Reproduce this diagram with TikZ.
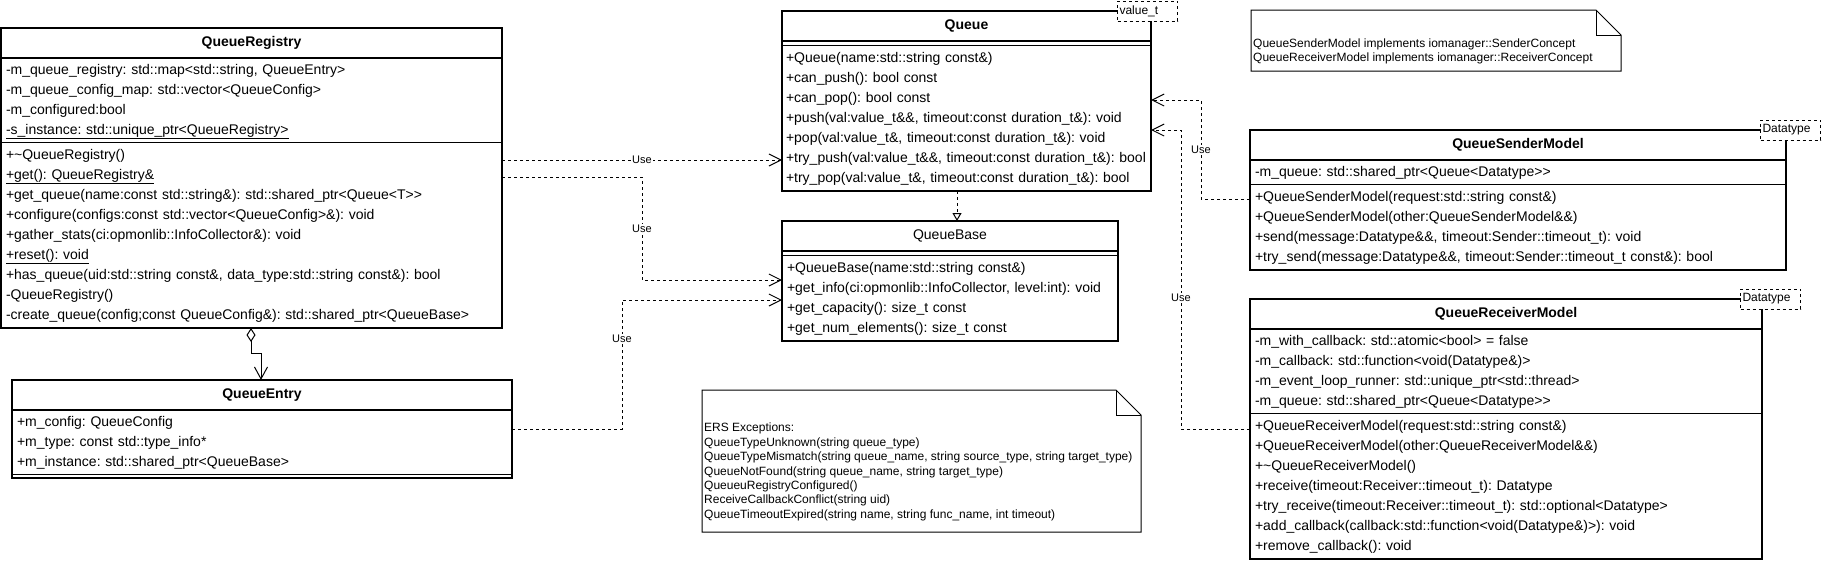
\documentclass[tikz,border=0pt]{standalone}
\usepackage{fontspec}
\setmainfont{Liberation Sans}
\usetikzlibrary{arrows.meta,positioning,fit,calc}
\frenchspacing
\newcommand{\umlfont}{\fontsize{14}{20}\selectfont}
\newcommand{\notefont}{\fontsize{12}{14.4}\selectfont}
\newcommand{\lblfont}{\fontsize{11}{13}\selectfont}
\tikzset{
  classhead/.style={draw, line width=2pt, minimum width=#1, minimum height=30pt,
    inner sep=0pt, outer sep=0pt, font=\umlfont\bfseries},
  classpart/.style={draw, line width=1pt, text width=#1, inner xsep=5pt,
    inner ysep=0pt, outer sep=0pt, align=left, font=\umlfont,
    execute at begin node=\strut, execute at end node=\strut},
  classgap/.style={draw, line width=1pt, minimum width=#1, minimum height=4pt,
    inner sep=0pt, outer sep=0pt},
  classframe/.style={draw, line width=2pt, inner sep=0pt, outer sep=0pt},
  tplbox/.style={draw, line width=1pt, dash pattern=on 3pt off 3pt, fill=white,
    text width=56pt, inner xsep=2pt, inner ysep=0pt, minimum height=20pt,
    align=left, font=\fontsize{12}{14}\selectfont},
  notebox/.style={inner sep=0pt, outer sep=0pt},
  noteline/.style={line width=1pt},
  notetext/.style={align=left, inner sep=1pt, font=\notefont},
  usedep/.style={line width=1pt, dash pattern=on 3pt off 3pt,
    -{Straight Barb[length=12pt, width=12pt]}},
  aggr/.style={line width=1pt,
    {Diamond[open, length=14pt, width=9pt]}-{Straight Barb[length=12pt, width=13pt]}},
  realize/.style={line width=1pt, dash pattern=on 3pt off 3pt,
    -{Triangle[open, length=8pt, width=9pt]}},
  uselbl/.style={fill=white, inner sep=1pt, font=\lblfont}
}

\begin{document}
\begin{tikzpicture}[x=1pt, y=-1pt]
\useasboundingbox (0,0) rectangle (1822,560);

\node[classhead=501pt, anchor=north west] (reg) at (1,28) {QueueRegistry};
\node[classpart=491pt, minimum height=84pt, below=0pt of reg] (reg-a) {-m\_queue\_registry: std::map<std::string, QueueEntry>\\-m\_queue\_config\_map: std::vector<QueueConfig>\\-m\_configured:bool\\\underline{-s\_instance: std::unique\_ptr<QueueRegistry>}};
\node[classpart=491pt, minimum height=186pt, below=0pt of reg-a] (reg-m) {+\textasciitilde QueueRegistry()\\\underline{+get(): QueueRegistry\&}\\+get\_queue(name:const std::string\&): std::shared\_ptr<Queue<T>{}>\\+configure(configs:const std::vector<QueueConfig>\&): void\\+gather\_stats(ci:opmonlib::InfoCollector\&): void\\\underline{+reset(): void}\\+has\_queue(uid:std::string const\&, data\_type:std::string const\&): bool\\-QueueRegistry()\\-create\_queue(config;const QueueConfig\&): std::shared\_ptr<QueueBase>};
\node[classframe, fit=(reg)(reg-m)] (reg-box) {};

\node[classhead=500pt, anchor=north west] (qe) at (12,380) {QueueEntry};
\node[classpart=490pt, minimum height=64pt, below=0pt of qe] (qe-a) {+m\_config: QueueConfig\\+m\_type: const std::type\_info*\\+m\_instance: std::shared\_ptr<QueueBase>};
\node[classgap=500pt, below=0pt of qe-a] (qe-m) {};
\node[classframe, fit=(qe)(qe-m)] (qe-box) {};

\node[classhead=369pt, anchor=north west] (q) at (782,11) {Queue};
\node[classgap=369pt, below=0pt of q] (q-a) {};
\node[classpart=361pt, inner xsep=4pt, minimum height=146pt, below=0pt of q-a] (q-m) {+Queue(name:std::string const\&)\\+can\_push(): bool const\\+can\_pop(): bool const\\\mbox{+push(val:value\_t\&\&, timeout:const duration\_t\&): void}\\\mbox{+pop(val:value\_t\&, timeout:const duration\_t\&): void}\\\mbox{+try\_push(val:value\_t\&\&, timeout:const duration\_t\&): bool}\\\mbox{+try\_pop(val:value\_t\&, timeout:const duration\_t\&): bool}};
\node[classframe, fit=(q)(q-m)] (q-box) {};
\node[tplbox, anchor=west] (q-tpl) at ($(q.north east)+(-34,0)$) {value\_t};

\node[classhead=336pt, font=\umlfont, anchor=north west] (qb) at (782,221) {QueueBase};
\node[classgap=336pt, below=0pt of qb] (qb-a) {};
\node[classpart=326pt, minimum height=86pt, below=0pt of qb-a] (qb-m) {+QueueBase(name:std::string const\&)\\+get\_info(ci:opmonlib::InfoCollector, level:int): void\\+get\_capacity(): size\_t const\\+get\_num\_elements(): size\_t const};
\node[classframe, fit=(qb)(qb-m)] (qb-box) {};

\node[classhead=536pt, anchor=north west] (qs) at (1250,130) {QueueSenderModel};
\node[classpart=526pt, minimum height=24pt, below=0pt of qs] (qs-a) {-m\_queue: std::shared\_ptr<Queue<Datatype>{}>};
\node[classpart=526pt, minimum height=86pt, below=0pt of qs-a] (qs-m) {+QueueSenderModel(request:std::string const\&)\\+QueueSenderModel(other:QueueSenderModel\&\&)\\+send(message:Datatype\&\&, timeout:Sender::timeout\_t): void\\+try\_send(message:Datatype\&\&, timeout:Sender::timeout\_t const\&): bool};
\node[classframe, fit=(qs)(qs-m)] (qs-box) {};
\node[tplbox, anchor=west] (qs-tpl) at ($(qs.north east)+(-26,0)$) {Datatype};

\node[classhead=512pt, anchor=north west] (qr) at (1250,299) {QueueReceiverModel};
\node[classpart=502pt, minimum height=84pt, below=0pt of qr] (qr-a) {-m\_with\_callback: std::atomic<bool> = false\\-m\_callback: std::function<void(Datatype\&)>\\-m\_event\_loop\_runner: std::unique\_ptr<std::thread>\\-m\_queue: std::shared\_ptr<Queue<Datatype>{}>};
\node[classpart=502pt, minimum height=146pt, below=0pt of qr-a] (qr-m) {+QueueReceiverModel(request:std::string const\&)\\+QueueReceiverModel(other:QueueReceiverModel\&\&)\\+\textasciitilde QueueReceiverModel()\\+receive(timeout:Receiver::timeout\_t): Datatype\\+try\_receive(timeout:Receiver::timeout\_t): std::optional<Datatype>\\+add\_callback(callback:std::function<void(Datatype\&)>): void\\+remove\_callback(): void};
\node[classframe, fit=(qr)(qr-m)] (qr-box) {};
\node[tplbox, anchor=west] (qr-tpl) at ($(qr.north east)+(-22,0)$) {Datatype};

\node[notebox, minimum width=370pt, minimum height=61pt, anchor=north west] (impl) at (1251,10) {};
\draw[noteline] (impl.south west) -- (impl.north west) -- ($(impl.north east)+(-25,0)$) -- ($(impl.north east)+(0,25)$) -- (impl.south east) -- cycle;
\draw[noteline] ($(impl.north east)+(-25,0)$) -- ++(0,25) -- ++(25,0);
\node[notetext, anchor=west] (impl-txt) at ($(impl.west)+(1,11)$) {QueueSenderModel implements iomanager::SenderConcept\\QueueReceiverModel implements iomanager::ReceiverConcept};

\node[notebox, minimum width=439pt, minimum height=142pt, anchor=north west] (ers) at (702,390) {};
\draw[noteline] (ers.south west) -- (ers.north west) -- ($(ers.north east)+(-25,0)$) -- ($(ers.north east)+(0,25)$) -- (ers.south east) -- cycle;
\draw[noteline] ($(ers.north east)+(-25,0)$) -- ++(0,25) -- ++(25,0);
\node[notetext, anchor=west] (ers-txt) at ($(ers.west)+(1,11)$) {ERS Exceptions:\\QueueTypeUnknown(string queue\_type)\\QueueTypeMismatch(string queue\_name, string source\_type, string target\_type)\\QueueNotFound(string queue\_name, string target\_type)\\QueueuRegistryConfigured()\\ReceiveCallbackConflict(string uid)\\QueueTimeoutExpired(string name, string func\_name, int timeout)};

\coordinate (u1) at ($(reg-m.north east)+(0,18)$);
\coordinate (u2) at ($(reg-m.north east)+(0,35)$);
\coordinate (v2) at ($(qb-m.north west)+(0,25)$);
\coordinate (u3) at ($(qe-a.north east)+(0,19)$);
\coordinate (v3) at ($(qb-m.north west)+(0,45)$);
\coordinate (u4) at ($(qs-m.north west)+(0,15)$);
\coordinate (v4) at ($(q-m.north east)+(0,55)$);
\coordinate (u5) at ($(qr-m.north west)+(0,16)$);
\coordinate (v5) at ($(q-m.north east)+(0,85)$);
\coordinate (a1) at ($(reg-m.south west)+(250,0)$);
\coordinate (a2) at ($(qe.north west)+(249,0)$);
\coordinate (g1) at ($(q-m.south west)+(175,0)$);

\draw[usedep] (u1) -- node[uselbl] {Use} (u1 -| q-m.west);
\draw[usedep] (u2) -- ++(140,0) |- node[uselbl, pos=0.25] {Use} (v2);
\draw[usedep] (u3) -- ++(110,0) |- node[uselbl, pos=0.35] {Use} (v3);
\draw[usedep] (u4) -- ++(-49,0) |- node[uselbl, pos=0.25] {Use} (v4);
\draw[usedep] (u5) -- ++(-69,0) |- node[uselbl, pos=0.22] {Use} (v5);
\draw[aggr] (a1) -- ++(0,25) -| (a2);
\draw[realize] (g1) -- (g1 |- qb.north);
\end{tikzpicture}
\end{document}
